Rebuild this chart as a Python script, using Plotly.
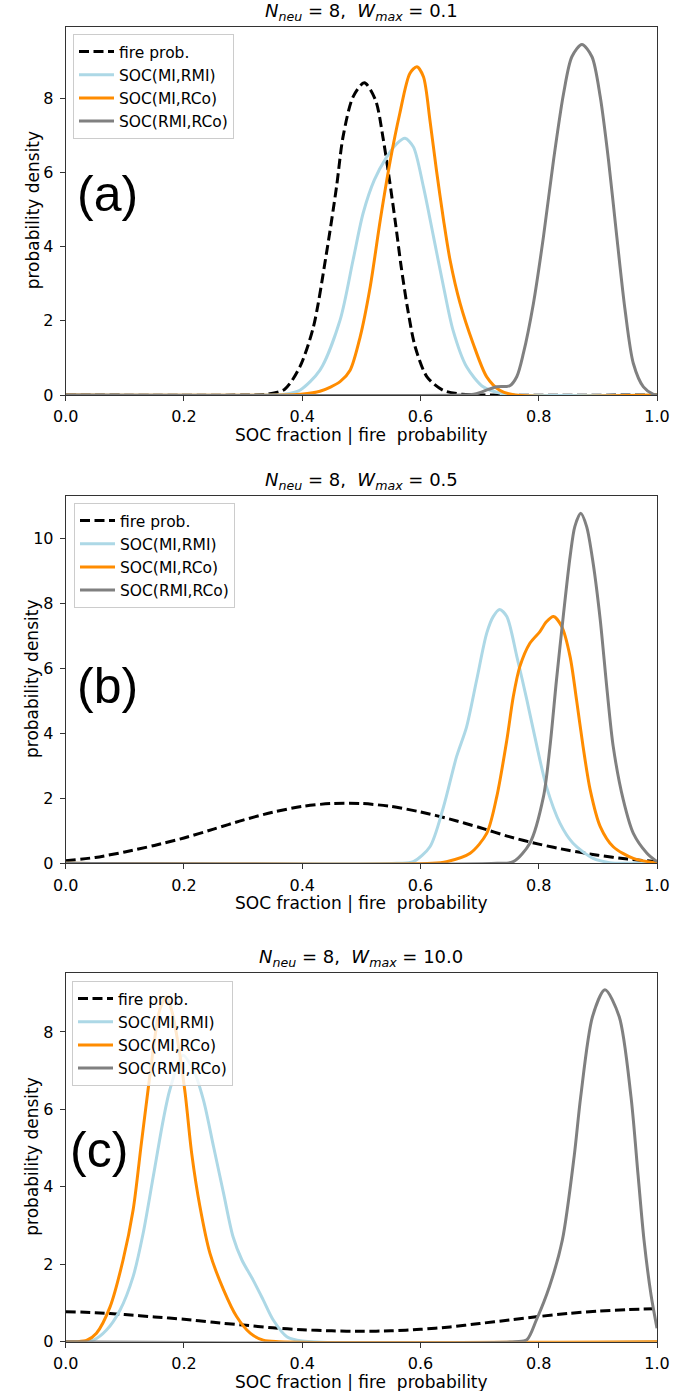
import plotly.graph_objects as go

# ---------------- data ----------------
series_names = ["fire prob.", "SOC(MI,RMI)", "SOC(MI,RCo)", "SOC(RMI,RCo)"]
wmax_labels = ["0.1", "0.5", "10.0"]
panel_letters = ["(a)", "(b)", "(c)"]
x_ticks = [0.0, 0.2, 0.4, 0.6, 0.8, 1.0]
x_tick_text = ["0.0", "0.2", "0.4", "0.6", "0.8", "1.0"]

# panel (a)  W_max = 0.1
fire_a_x = [0.0, 0.30, 0.34, 0.37, 0.396, 0.419, 0.441, 0.458, 0.469, 0.486, 0.505, 0.524, 0.537, 0.548, 0.558, 0.567, 0.578, 0.591, 0.611, 0.638, 0.67, 0.70, 1.0]
fire_a_y = [0.0, 0.0, 0.02, 0.15, 0.76, 1.84, 3.82, 5.61, 6.96, 8.04, 8.42, 7.95, 6.90, 5.75, 4.60, 3.50, 2.35, 1.30, 0.49, 0.13, 0.02, 0.0, 0.0]
lb_a_x = [0.0, 0.34, 0.37, 0.396, 0.43, 0.464, 0.486, 0.503, 0.522, 0.543, 0.560, 0.574, 0.588, 0.605, 0.622, 0.639, 0.655, 0.678, 0.706, 0.734, 0.76, 1.0]
lb_a_y = [0.0, 0.0, 0.02, 0.13, 0.67, 2.02, 3.64, 4.90, 5.80, 6.42, 6.78, 6.92, 6.69, 5.61, 4.27, 2.92, 1.75, 0.76, 0.22, 0.05, 0.0, 0.0]
or_a_x = [0.0, 0.37, 0.396, 0.43, 0.464, 0.481, 0.498, 0.515, 0.532, 0.549, 0.565, 0.582, 0.594, 0.605, 0.616, 0.627, 0.639, 0.65, 0.667, 0.689, 0.712, 0.734, 0.76, 1.0]
or_a_y = [0.0, 0.0, 0.02, 0.10, 0.36, 0.67, 1.57, 2.92, 4.72, 6.33, 7.59, 8.67, 8.85, 8.58, 7.41, 6.06, 4.72, 3.64, 2.47, 1.39, 0.49, 0.13, 0.0, 0.0]
gr_a_x = [0.0, 0.67, 0.69, 0.70, 0.715, 0.729, 0.751, 0.763, 0.774, 0.791, 0.808, 0.825, 0.842, 0.856, 0.873, 0.89, 0.904, 0.918, 0.932, 0.946, 0.96, 0.977, 0.994, 1.0]
gr_a_y = [0.0, 0.0, 0.02, 0.06, 0.15, 0.22, 0.25, 0.50, 1.12, 2.47, 4.27, 6.33, 8.13, 9.12, 9.45, 9.12, 8.04, 6.33, 4.27, 2.29, 0.85, 0.22, 0.02, 0.0]

# panel (b)  W_max = 0.5
fire_b_x = [0.0, 0.05, 0.1, 0.15, 0.2, 0.25, 0.3, 0.35, 0.4, 0.45, 0.5, 0.55, 0.6, 0.65, 0.7, 0.75, 0.8, 0.85, 0.9, 0.95, 1.0]
fire_b_y = [0.08, 0.18, 0.35, 0.55, 0.78, 1.05, 1.33, 1.57, 1.75, 1.84, 1.84, 1.75, 1.58, 1.36, 1.10, 0.82, 0.59, 0.40, 0.25, 0.13, 0.05]
lb_b_x = [0.0, 0.56, 0.588, 0.616, 0.639, 0.661, 0.678, 0.695, 0.712, 0.723, 0.734, 0.746, 0.763, 0.78, 0.797, 0.813, 0.836, 0.858, 0.892, 0.92, 0.95, 1.0]
lb_b_y = [0.0, 0.0, 0.05, 0.51, 1.74, 3.28, 4.20, 5.64, 7.08, 7.59, 7.81, 7.59, 6.36, 5.02, 3.59, 2.36, 1.23, 0.62, 0.15, 0.02, 0.0, 0.0]
or_b_x = [0.0, 0.62, 0.644, 0.684, 0.712, 0.729, 0.746, 0.757, 0.768, 0.785, 0.802, 0.813, 0.825, 0.839, 0.853, 0.864, 0.875, 0.887, 0.904, 0.926, 0.96, 0.995, 1.0]
or_b_y = [0.0, 0.0, 0.05, 0.31, 0.92, 2.05, 3.79, 5.13, 6.05, 6.77, 7.13, 7.43, 7.59, 7.28, 6.36, 5.02, 3.59, 2.26, 1.13, 0.51, 0.15, 0.02, 0.01]
gr_b_x = [0.0, 0.73, 0.757, 0.785, 0.808, 0.819, 0.83, 0.842, 0.853, 0.861, 0.871, 0.881, 0.892, 0.904, 0.915, 0.926, 0.943, 0.96, 0.983, 1.0]
gr_b_y = [0.0, 0.0, 0.05, 0.62, 2.05, 3.59, 5.64, 7.69, 9.43, 10.36, 10.77, 10.36, 9.23, 7.49, 5.43, 3.59, 1.95, 0.92, 0.31, 0.05]

# panel (c)  W_max = 10.0
fire_c_x = [0.0, 0.05, 0.1, 0.15, 0.2, 0.25, 0.3, 0.35, 0.4, 0.45, 0.5, 0.55, 0.6, 0.65, 0.7, 0.75, 0.8, 0.85, 0.9, 0.95, 1.0]
fire_c_y = [0.775, 0.75, 0.70, 0.64, 0.58, 0.50, 0.43, 0.36, 0.31, 0.28, 0.27, 0.28, 0.32, 0.38, 0.47, 0.56, 0.65, 0.73, 0.79, 0.83, 0.85]
lb_c_x = [0.0, 0.03, 0.047, 0.069, 0.092, 0.114, 0.131, 0.148, 0.165, 0.176, 0.198, 0.216, 0.233, 0.250, 0.267, 0.283, 0.298, 0.317, 0.334, 0.351, 0.374, 0.40, 1.0]
lb_c_y = [0.0, 0.0, 0.04, 0.30, 0.82, 1.68, 2.80, 4.26, 5.73, 6.50, 7.40, 7.02, 6.24, 5.04, 3.83, 2.71, 2.11, 1.59, 1.08, 0.56, 0.13, 0.02, 0.0]
or_c_x = [0.0, 0.02, 0.036, 0.052, 0.075, 0.097, 0.114, 0.128, 0.140, 0.151, 0.159, 0.170, 0.179, 0.190, 0.202, 0.213, 0.227, 0.244, 0.267, 0.289, 0.312, 0.334, 0.36, 1.0]
or_c_y = [0.0, 0.0, 0.04, 0.22, 0.90, 2.11, 3.40, 5.13, 6.59, 7.88, 8.57, 8.91, 8.57, 7.71, 6.42, 4.87, 3.49, 2.28, 1.34, 0.65, 0.22, 0.04, 0.0, 0.0]
gr_c_x = [0.0, 0.76, 0.78, 0.796, 0.818, 0.84, 0.86, 0.871, 0.891, 0.912, 0.936, 0.956, 0.968, 0.978, 0.99, 1.0]
gr_c_y = [0.0, 0.0, 0.05, 0.56, 1.42, 2.63, 4.80, 6.33, 8.40, 9.09, 8.40, 6.33, 4.30, 2.63, 1.20, 0.35]

y_max = [9.93, 11.31, 9.53]

panels_data = [
    [(fire_a_x, fire_a_y), (lb_a_x, lb_a_y), (or_a_x, or_a_y), (gr_a_x, gr_a_y)],
    [(fire_b_x, fire_b_y), (lb_b_x, lb_b_y), (or_b_x, or_b_y), (gr_b_x, gr_b_y)],
    [(fire_c_x, fire_c_y), (lb_c_x, lb_c_y), (or_c_x, or_c_y), (gr_c_x, gr_c_y)],
]

# ---------------- styling / layout ----------------
W, H = 673, 1391
X0, X1 = 65.7, 657.0
panel_px = [(26.7, 395.0), (495.7, 863.3), (972.7, 1341.7)]
legend_px = [(73, 34), (74, 503), (72, 981)]
letter_px = [(107.5, 193.5), (107.5, 685.5), (98.5, 1149.5)]
colors = ["black", "#ADD8E6", "#FF8C00", "#808080"]
dashes = ["10px,4.5px", "solid", "solid", "solid"]
FONT = "DejaVu Sans"
AX_COLOR = "#333333"

fig = go.Figure()
for p in range(3):
    xid = "x" if p == 0 else f"x{p+1}"
    yid = "y" if p == 0 else f"y{p+1}"
    lg = "legend" if p == 0 else f"legend{p+1}"
    for s in range(4):
        xs, ys = panels_data[p][s]
        fig.add_trace(go.Scatter(
            x=xs, y=ys, mode="lines", name=series_names[s],
            line=dict(color=colors[s], width=3, dash=dashes[s], shape="spline", smoothing=0.8),
            xaxis=xid, yaxis=yid, legend=lg, showlegend=True,
        ))

layout = dict(
    width=W, height=H, margin=dict(l=0, r=0, t=0, b=0, pad=0, autoexpand=False),
    paper_bgcolor="white", plot_bgcolor="white",
    font=dict(family=FONT, size=16, color="black"),
)
annotations = []
for p in range(3):
    top, bot = panel_px[p]
    xa = "xaxis" if p == 0 else f"xaxis{p+1}"
    ya = "yaxis" if p == 0 else f"yaxis{p+1}"
    yid = "y" if p == 0 else f"y{p+1}"
    xid = "x" if p == 0 else f"x{p+1}"
    layout[xa] = dict(
        domain=[X0 / W, X1 / W], anchor=yid, range=[0, 1], automargin=False,
        tickmode="array", tickvals=x_ticks, ticktext=x_tick_text,
        ticks="outside", ticklen=5, tickwidth=1, tickcolor=AX_COLOR,
        showline=True, linecolor=AX_COLOR, linewidth=1, mirror=True,
        showgrid=False, zeroline=False, tickfont=dict(size=16, family=FONT),
        ticklabelstandoff=2,
    )
    layout[ya] = dict(
        domain=[1 - bot / H, 1 - top / H], anchor=xid, range=[0, y_max[p]], automargin=False,
        dtick=2, tick0=0,
        ticks="outside", ticklen=5, tickwidth=1, tickcolor=AX_COLOR,
        showline=True, linecolor=AX_COLOR, linewidth=1, mirror=True,
        showgrid=False, zeroline=False, tickfont=dict(size=16, family=FONT),
        ticklabelstandoff=3,
    )
    lg = "legend" if p == 0 else f"legend{p+1}"
    lx, ly = legend_px[p]
    layout[lg] = dict(
        x=lx / W, y=1 - ly / H, xanchor="left", yanchor="top",
        bgcolor="rgba(255,255,255,0.8)", bordercolor="#cccccc", borderwidth=1,
        font=dict(size=15.5, family=FONT), itemwidth=35, tracegroupgap=0,
    )
    # title
    annotations.append(dict(
        text=f"<i>N</i><sub><i>neu</i></sub> = 8,&nbsp;&nbsp;<i>W</i><sub><i>max</i></sub> = {wmax_labels[p]}",
        x=(X0 + X1) / 2 / W, y=1 - (top - 15) / H, xref="paper", yref="paper",
        xanchor="center", yanchor="middle", showarrow=False,
        font=dict(size=18, family=FONT),
    ))
    # x label
    annotations.append(dict(
        text="SOC fraction | fire&nbsp;&nbsp;probability",
        x=(X0 + X1) / 2 / W, y=1 - (bot + 40) / H, xref="paper", yref="paper",
        xanchor="center", yanchor="middle", showarrow=False,
        font=dict(size=17, family=FONT),
    ))
    # y label
    annotations.append(dict(
        text="probability density", textangle=-90,
        x=32.5 / W, y=1 - (top + bot) / 2 / H, xref="paper", yref="paper",
        xanchor="center", yanchor="middle", showarrow=False,
        font=dict(size=17, family=FONT),
    ))
    # panel letter
    cx, cy = letter_px[p]
    annotations.append(dict(
        text=panel_letters[p],
        x=cx / W, y=1 - cy / H, xref="paper", yref="paper",
        xanchor="center", yanchor="middle", showarrow=False,
        font=dict(size=50, family="Liberation Sans"),
    ))
layout["annotations"] = annotations
fig.update_layout(**layout)

fig.write_html("out.html", config={"displayModeBar": False},
               post_script="document.body.style.margin='0';")
